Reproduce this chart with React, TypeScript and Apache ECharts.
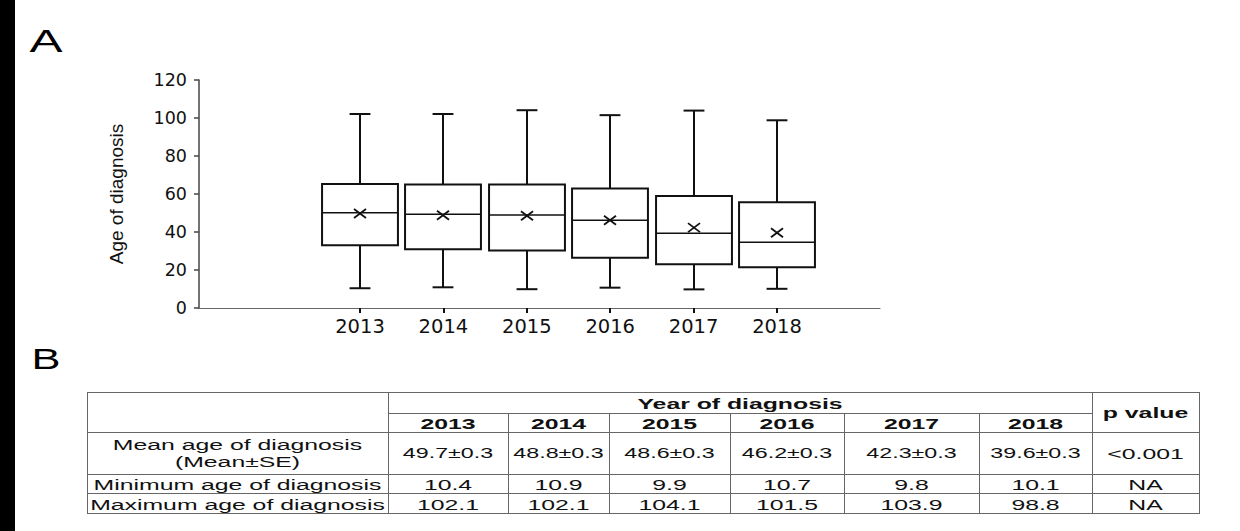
import React, { useEffect, useRef } from 'react';
import * as echarts from 'echarts';

// ---------- data ----------
const years = ['2013', '2014', '2015', '2016', '2017', '2018'];
const minVals = [10.4, 10.9, 9.9, 10.7, 9.8, 10.1];
const q1Vals = [33.0, 30.9, 30.2, 26.5, 23.0, 21.4];
const medianVals = [50.1, 49.4, 49.0, 46.2, 39.4, 34.6];
const q3Vals = [65.3, 65.0, 65.0, 62.9, 59.0, 55.7];
const maxVals = [102.1, 102.1, 104.1, 101.5, 103.9, 98.8];
const meanVals = [49.7, 48.8, 48.6, 46.2, 42.3, 39.6];
const seVals = [0.3, 0.3, 0.3, 0.3, 0.3, 0.3];
const pValues = ['<0.001', 'NA', 'NA'];
const rowLabels = ['Minimum age of diagnosis', 'Maximum age of diagnosis'];
const yMin = 0;
const yMax = 120;
const yInterval = 20;

// ---------- layout (positions only) ----------
const colEdges = [87, 388, 508, 609, 730, 844, 979, 1092, 1199];
const rowEdges = [392, 413, 432, 474, 493, 513];
const TXT_FONT = 'Liberation Sans, Arial, sans-serif';
const SX = 1.6;
const LINE = '#666';
const INK = '#111';

function txt(text: string, cx: number, cy: number, opts: any = {}) {
  return {
    type: 'text',
    x: cx,
    y: cy,
    scaleX: opts.scaleX ?? SX,
    silent: true,
    style: {
      text,
      x: 0,
      y: 0,
      fill: opts.fill ?? INK,
      fontSize: opts.fontSize ?? 15.5,
      fontWeight: opts.bold ? 'bold' : 'normal',
      fontFamily: TXT_FONT,
      align: opts.align ?? 'center',
      verticalAlign: 'middle',
      textAlign: opts.align ?? 'center',
      textVerticalAlign: 'middle',
    },
  };
}

function hline(x1: number, x2: number, y: number) {
  return { type: 'line', silent: true, shape: { x1, y1: y + 0.5, x2, y2: y + 0.5 }, style: { stroke: LINE, lineWidth: 1 } };
}
function vline(x: number, y1: number, y2: number) {
  return { type: 'line', silent: true, shape: { x1: x + 0.5, y1, x2: x + 0.5, y2 }, style: { stroke: LINE, lineWidth: 1 } };
}

function buildTable(): any[] {
  const els: any[] = [];
  const L = colEdges[0];
  const R = colEdges[colEdges.length - 1];
  const T = rowEdges[0];
  const B = rowEdges[rowEdges.length - 1];
  // horizontal lines
  els.push(hline(L, R + 1, T));
  els.push(hline(colEdges[1], colEdges[7], rowEdges[1]));
  els.push(hline(L, R + 1, rowEdges[2]));
  els.push(hline(L, R + 1, rowEdges[3]));
  els.push(hline(L, R + 1, rowEdges[4]));
  els.push(hline(L, R + 1, B));
  // vertical lines
  els.push(vline(L, T, B + 1));
  els.push(vline(colEdges[1], T, B + 1));
  els.push(vline(colEdges[7], T, B + 1));
  els.push(vline(R, T, B + 1));
  for (let c = 2; c <= 6; c++) els.push(vline(colEdges[c], rowEdges[1], B + 1));

  const mid = (a: number, b: number) => (a + b) / 2;
  // headers
  els.push(txt('Year of diagnosis', mid(colEdges[1], colEdges[7]), mid(rowEdges[0], rowEdges[1]) + 1, { bold: true }));
  els.push(txt('p value', mid(colEdges[7], colEdges[8]), mid(rowEdges[0], rowEdges[2]), { bold: true }));
  years.forEach((y, i) => {
    els.push(txt(y, mid(colEdges[i + 1], colEdges[i + 2]), mid(rowEdges[1], rowEdges[2]) + 1, { bold: true }));
  });
  // row labels
  const c0 = mid(colEdges[0], colEdges[1]);
  els.push(txt('Mean age of diagnosis', c0, rowEdges[2] + 12));
  els.push(txt('(Mean±SE)', c0, rowEdges[2] + 29));
  els.push(txt(rowLabels[0], c0, mid(rowEdges[3], rowEdges[4]) + 1));
  els.push(txt(rowLabels[1], c0, mid(rowEdges[4], rowEdges[5]) + 1));
  // values
  years.forEach((_, i) => {
    const cx = mid(colEdges[i + 1], colEdges[i + 2]);
    els.push(txt(`${meanVals[i].toFixed(1)}±${seVals[i].toFixed(1)}`, cx, mid(rowEdges[2], rowEdges[3]), { scaleX: 1.5 }));
    els.push(txt(minVals[i].toFixed(1), cx, mid(rowEdges[3], rowEdges[4]) + 1));
    els.push(txt(maxVals[i].toFixed(1), cx, mid(rowEdges[4], rowEdges[5]) + 1));
  });
  const cp = mid(colEdges[7], colEdges[8]);
  els.push(txt(pValues[0], cp, mid(rowEdges[2], rowEdges[3])));
  els.push(txt(pValues[1], cp, mid(rowEdges[3], rowEdges[4]) + 1));
  els.push(txt(pValues[2], cp, mid(rowEdges[4], rowEdges[5]) + 1));
  return els;
}

const boxData = years.map((_, i) => [i, minVals[i], q1Vals[i], medianVals[i], q3Vals[i], maxVals[i], meanVals[i]]);

function renderBox(params: any, api: any) {
  const idx = api.value(0);
  const low = api.coord([idx, api.value(1)]);
  const q1 = api.coord([idx, api.value(2)]);
  const med = api.coord([idx, api.value(3)]);
  const q3 = api.coord([idx, api.value(4)]);
  const high = api.coord([idx, api.value(5)]);
  const mean = api.coord([idx, api.value(6)]);
  const band = api.size([1, 0])[0];
  const bw = band * 0.91;
  const cw = band * 0.25;
  const cx = Math.round(q1[0]);
  const st = { stroke: INK, lineWidth: 2, fill: 'none' };
  return {
    type: 'group',
    children: [
      { type: 'line', shape: { x1: cx, y1: high[1], x2: cx, y2: q3[1] }, style: st },
      { type: 'line', shape: { x1: cx, y1: q1[1], x2: cx, y2: low[1] }, style: st },
      { type: 'line', shape: { x1: cx - cw / 2, y1: high[1], x2: cx + cw / 2, y2: high[1] }, style: st },
      { type: 'line', shape: { x1: cx - cw / 2, y1: low[1], x2: cx + cw / 2, y2: low[1] }, style: st },
      { type: 'rect', shape: { x: cx - bw / 2, y: q3[1], width: bw, height: q1[1] - q3[1] }, style: { stroke: INK, lineWidth: 2, fill: '#fff' } },
      { type: 'line', shape: { x1: cx - bw / 2, y1: med[1], x2: cx + bw / 2, y2: med[1] }, style: { stroke: INK, lineWidth: 1.5 } },
      { type: 'line', shape: { x1: cx - 6, y1: mean[1] - 4.5, x2: cx + 6, y2: mean[1] + 4.5 }, style: { stroke: INK, lineWidth: 1.8 } },
      { type: 'line', shape: { x1: cx - 6, y1: mean[1] + 4.5, x2: cx + 6, y2: mean[1] - 4.5 }, style: { stroke: INK, lineWidth: 1.8 } },
    ],
  };
}

const option: any = {
  animation: false,
  backgroundColor: '#fff',
  grid: [
    { left: 199, top: 80, width: 681, height: 228, containLabel: false },
    { left: 318.3, top: 80, width: 500.4, height: 228, containLabel: false },
  ],
  xAxis: [
    {
      type: 'value', gridIndex: 0, min: 0, max: 1,
      axisLine: { show: true, lineStyle: { color: '#666', width: 1.2 } },
      axisTick: { show: false }, axisLabel: { show: false }, splitLine: { show: false },
    },
    {
      type: 'category', gridIndex: 1, data: years, boundaryGap: true,
      axisLine: { show: false },
      axisTick: { show: true, alignWithLabel: true, length: 5, lineStyle: { color: INK, width: 2 } },
      axisLabel: { color: INK, fontSize: 19.5, fontFamily: 'DejaVu Sans', margin: 8 },
      splitLine: { show: false },
    },
  ],
  yAxis: [
    {
      type: 'value', gridIndex: 0, min: yMin, max: yMax, interval: yInterval,
      name: 'Age of diagnosis', nameLocation: 'middle', nameGap: 73,
      nameTextStyle: { fontSize: 19, fontFamily: 'Liberation Sans', color: INK },
      axisLine: { show: true, lineStyle: { color: '#444', width: 1.5 } },
      axisTick: { show: true, length: 5, lineStyle: { color: '#444', width: 1.5 } },
      axisLabel: { color: INK, fontSize: 17.5, fontFamily: 'DejaVu Sans', margin: 12 },
      splitLine: { show: false },
    },
    {
      type: 'value', gridIndex: 1, min: yMin, max: yMax, interval: yInterval, show: false,
      splitLine: { show: false },
    },
  ],
  series: [
    {
      type: 'custom',
      xAxisIndex: 1,
      yAxisIndex: 1,
      data: boxData,
      encode: { x: 0, y: [1, 2, 3, 4, 5, 6] },
      renderItem: renderBox,
      clip: false,
      silent: true,
    },
  ],
  graphic: [
    { type: 'rect', silent: true, shape: { x: 0, y: 0, width: 15, height: 531 }, style: { fill: '#000' } },
    txt('A', 46, 41, { fontSize: 32, scaleX: 1.55, fill: '#000' }),
    txt('B', 46, 359, { fontSize: 30, scaleX: 1.45, fill: '#000' }),
    ...buildTable(),
  ],
};

export default function App() {
  const ref = useRef<HTMLDivElement>(null);
  useEffect(() => {
    const chart = echarts.init(ref.current as HTMLDivElement, null, { renderer: 'svg' });
    chart.setOption(option);
    return () => chart.dispose();
  }, []);
  return (
    <div
      ref={ref}
      style={{ position: 'fixed', left: 0, top: 0, width: 1240, height: 531, background: '#fff' }}
    />
  );
}
